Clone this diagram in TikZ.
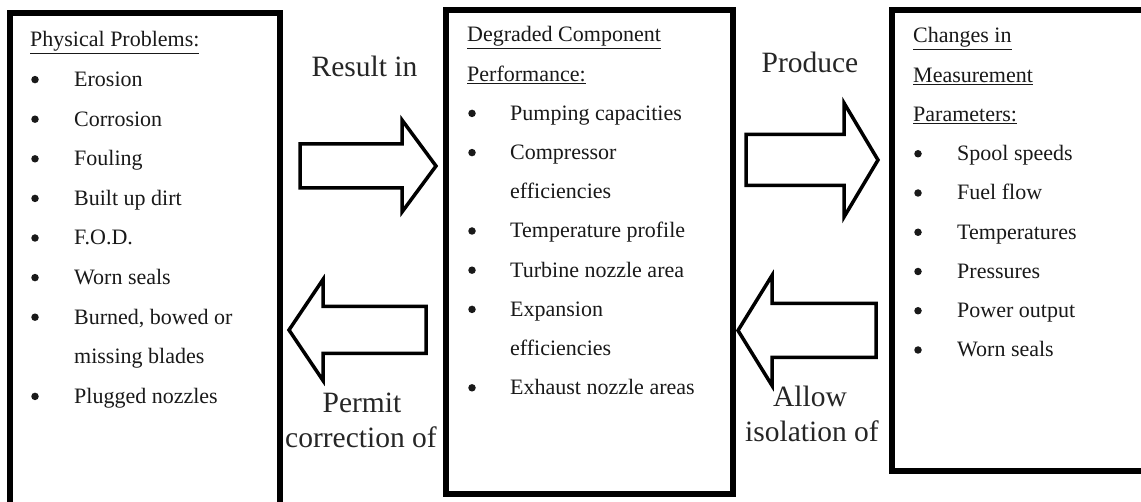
\documentclass[tikz,border=0pt]{standalone}
\usepackage{fontspec}
\setmainfont{Liberation Serif}
\newcommand{\itemfnt}{\fontsize{22}{26}\selectfont}
\newcommand{\labelfnt}{\fontsize{29.5}{35}\selectfont}
% block arrow: tail x, tip x, centre y, shaft half-height, head half-height, signed head length
\newcommand{\blkarrow}[6]{%
  \draw[blockarrow] (#1,#3-#4) -- (#2-#6,#3-#4) -- (#2-#6,#3-#5) -- (#2,#3)
    -- (#2-#6,#3+#5) -- (#2-#6,#3+#4) -- (#1,#3+#4) -- cycle;}
\begin{document}
\begin{tikzpicture}[x=1pt,y=-1pt,
  panel/.style={line width=6pt},
  blockarrow/.style={line width=3.5pt, fill=white},
  itm/.style={font=\itemfnt, anchor=base west, inner sep=0pt, text=black!90},
  hdr/.style={itm},
  dot/.style={circle, fill=black!90, inner sep=0pt, minimum size=7.5pt},
  lbl/.style={font=\labelfnt, anchor=base, inner sep=0pt, text=black!85}]
\useasboundingbox (0,0) rectangle (1141,502);
\clip (0,0) rectangle (1141,502);
\fill[white] (0,0) rectangle (1141,502);

% three panels
\draw[panel] (10,13) rectangle (280,640);
\draw[panel] (446,10) rectangle (733,494);
\draw[panel] (892,10) rectangle (1220,471);

% physical problems
\node[hdr] (p0) at (30,47) {\underline{Physical Problems:}};
\foreach \t/\y [count=\i] in {Erosion/86.6, Corrosion/126.2, Fouling/165.8,
    Built up dirt/205.4, F.O.D./245, Worn seals/284.6, {Burned, bowed or}/324.2,
    Plugged nozzles/403.4} {
  \node[dot] (pd\i) at (35,\y-7) {};
  \node[itm] (p\i) at (74,\y) {\t};
}
\node[itm] (p7b) at (74,363.8) {missing blades};

% degraded component performance
\node[hdr] (c0a) at (467,42) {\underline{Degraded Component}};
\node[hdr] (c0b) at (467,81.2) {\underline{Performance:}};
\foreach \t/\y [count=\i] in {Pumping capacities/120.4, Compressor/159.6,
    Temperature profile/238, Turbine nozzle area/277.2, Expansion/316.4,
    Exhaust nozzle areas/394.8} {
  \node[dot] (cd\i) at (472,\y-7) {};
  \node[itm] (c\i) at (510,\y) {\t};
}
\node[itm] (c2b) at (510,198.8) {efficiencies};
\node[itm] (c5b) at (510,355.6) {efficiencies};

% changes in measurement parameters
\node[hdr] (m0a) at (913,43) {\underline{Changes in}};
\node[hdr] (m0b) at (913,82.25) {\underline{Measurement}};
\node[hdr] (m0c) at (913,121.5) {\underline{Parameters:}};
\foreach \t/\y [count=\i] in {Spool speeds/160.75, Fuel flow/200,
    Temperatures/239.25, Pressures/278.5, Power output/317.75, Worn seals/357} {
  \node[dot] (md\i) at (918,\y-7) {};
  \node[itm] (m\i) at (957,\y) {\t};
}

% block arrows between the panels
\blkarrow{300}{436}{166}{22}{46}{34}
\blkarrow{746}{878}{160}{25.5}{57}{34}
\blkarrow{426}{289}{330}{23.5}{50.5}{-34}
\blkarrow{876}{738}{330.5}{27}{55}{-34}

% arrow labels
\node[lbl] (r1) at (364.5,77) {Result in};
\node[lbl] (r2) at (810,73) {Produce};
\node[lbl] (r3a) at (362,413) {Permit};
\node[lbl] (r3b) at (361,448) {correction of};
\node[lbl] (r4a) at (810,407) {Allow};
\node[lbl] (r4b) at (812,442) {isolation of};
\end{tikzpicture}
\end{document}
